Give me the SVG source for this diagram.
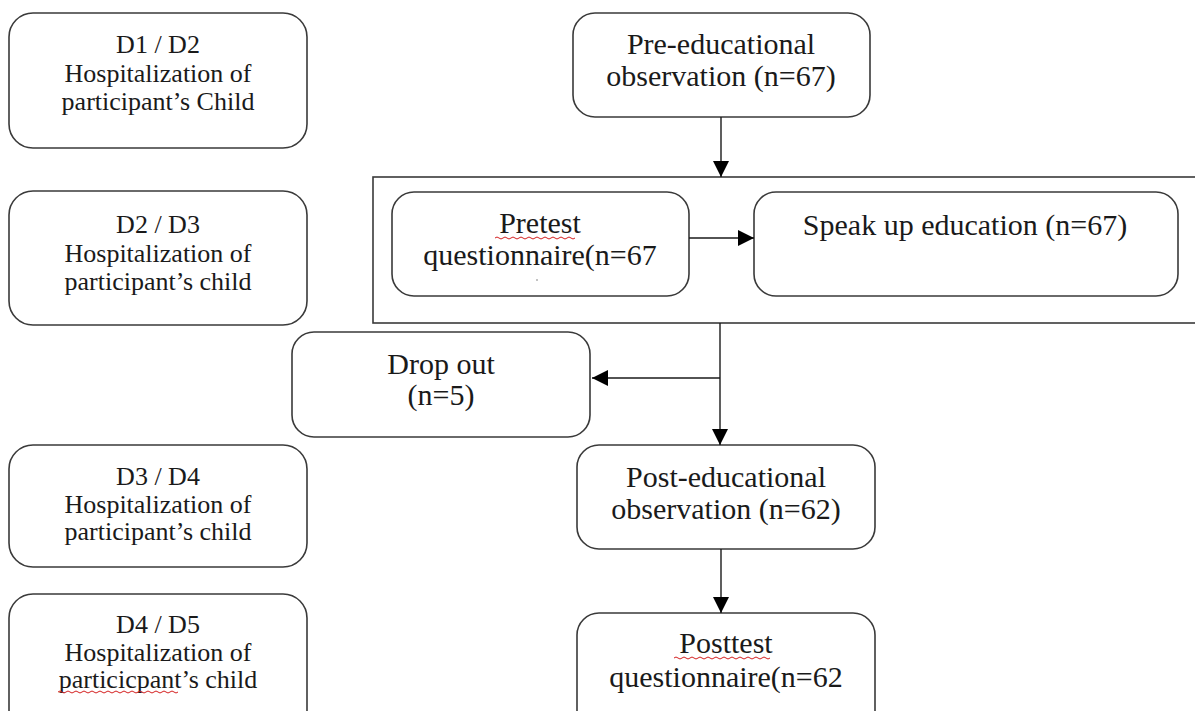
<svg xmlns="http://www.w3.org/2000/svg" width="1195" height="711" viewBox="0 0 1195 711">
  <style>
    .box { fill: #ffffff; stroke: #3a3a3a; stroke-width: 1.6; }
    .frame { fill: none; stroke: #3a3a3a; stroke-width: 1.6; }
    .line { fill: none; stroke: #1a1a1a; stroke-width: 1.4; }
    .side { font-family: "Liberation Serif", "Times New Roman", serif; font-size: 26px; fill: #1a1a1a; text-anchor: middle; }
    .main { font-family: "Liberation Serif", "Times New Roman", serif; font-size: 30px; fill: #1a1a1a; text-anchor: middle; }
    .spell { fill: none; stroke: #d42020; stroke-width: 1; }
  </style>
  <defs>
    <marker id="arrow" viewBox="0 0 10 10" refX="10" refY="5" markerWidth="16" markerHeight="16" markerUnits="userSpaceOnUse" orient="auto">
      <path d="M0,0 L10,5 L0,10 Z" fill="#000000"/>
    </marker>
  </defs>
  <rect width="1195" height="711" fill="#ffffff"/>

  <!-- hospital-day timeline on the left -->
  <g id="day-d1-d2">
    <rect class="box" x="9" y="13" width="298" height="135" rx="24"/>
    <text class="side" x="158" y="53">D1 / D2</text>
    <text class="side" x="158" y="82">Hospitalization of</text>
    <text class="side" x="158" y="110">participant’s Child</text>
  </g>
  <g id="day-d2-d3">
    <rect class="box" x="9" y="191" width="298" height="134" rx="24"/>
    <text class="side" x="158" y="233">D2 / D3</text>
    <text class="side" x="158" y="262">Hospitalization of</text>
    <text class="side" x="158" y="290">participant’s child</text>
  </g>
  <g id="day-d3-d4">
    <rect class="box" x="9" y="445" width="298" height="122" rx="24"/>
    <text class="side" x="158" y="485">D3 / D4</text>
    <text class="side" x="158" y="513">Hospitalization of</text>
    <text class="side" x="158" y="540">participant’s child</text>
  </g>
  <g id="day-d4-d5">
    <rect class="box" x="9" y="594" width="298" height="140" rx="24"/>
    <text class="side" x="158" y="633">D4 / D5</text>
    <text class="side" x="158" y="661">Hospitalization of</text>
    <text class="side" x="158" y="688">particicpant’s child</text>
    <path class="spell" d="M58,692 q2,-2 4,0 t4,0 t4,0 t4,0 t4,0 t4,0 t4,0 t4,0 t4,0 t4,0 t4,0 t4,0 t4,0 t4,0 t4,0 t4,0 t4,0 t4,0 t4,0 t4,0 t4,0 t4,0 t4,0 t4,0 t4,0 t4,0 t4,0 t4,0 t4,0 t4,0"/>
  </g>

  <!-- study flow -->
  <g id="pre-observation">
    <rect class="box" x="573" y="13" width="297" height="104" rx="22"/>
    <text class="main" x="721" y="54">Pre-educational</text>
    <text class="main" x="721" y="86">observation (n=67)</text>
  </g>

  <g id="intervention-frame">
    <rect class="frame" x="373" y="177" width="840" height="146"/>
  </g>

  <g id="pretest">
    <rect class="box" x="392" y="192" width="297" height="104" rx="22"/>
    <text class="main" x="540" y="233">Pretest</text>
    <text class="main" x="540" y="265">questionnaire(n=67</text>
    <path class="spell" d="M495,238 q2,-2 4,0 t4,0 t4,0 t4,0 t4,0 t4,0 t4,0 t4,0 t4,0 t4,0 t4,0 t4,0 t4,0 t4,0 t4,0 t4,0 t4,0 t4,0 t4,0 t4,0"/>
    <circle cx="537" cy="280" r="0.8" fill="#777777"/>
  </g>

  <g id="speakup-education">
    <rect class="box" x="754" y="192" width="424" height="104" rx="22"/>
    <text class="main" x="965" y="235">Speak up education (n=67)</text>
  </g>

  <g id="drop-out">
    <rect class="box" x="292" y="332" width="298" height="105" rx="22"/>
    <text class="main" x="441" y="374">Drop out</text>
    <text class="main" x="441" y="405">(n=5)</text>
  </g>

  <g id="post-observation">
    <rect class="box" x="577" y="445" width="298" height="104" rx="22"/>
    <text class="main" x="726" y="487">Post-educational</text>
    <text class="main" x="726" y="519">observation (n=62)</text>
  </g>

  <g id="posttest">
    <rect class="box" x="577" y="613" width="298" height="130" rx="22"/>
    <text class="main" x="726" y="653">Posttest</text>
    <text class="main" x="726" y="687">questionnaire(n=62</text>
    <path class="spell" d="M674,658 q2,-2 4,0 t4,0 t4,0 t4,0 t4,0 t4,0 t4,0 t4,0 t4,0 t4,0 t4,0 t4,0 t4,0 t4,0 t4,0 t4,0 t4,0 t4,0 t4,0 t4,0 t4,0 t4,0 t4,0 t4,0"/>
  </g>

  <g id="connectors">
    <line class="line" x1="721" y1="117" x2="721" y2="177" marker-end="url(#arrow)"/>
    <line class="line" x1="689" y1="238" x2="754" y2="238" marker-end="url(#arrow)"/>
    <line class="line" x1="720" y1="323" x2="720" y2="445" marker-end="url(#arrow)"/>
    <line class="line" x1="720" y1="378" x2="592" y2="378" marker-end="url(#arrow)"/>
    <line class="line" x1="721" y1="549" x2="721" y2="613" marker-end="url(#arrow)"/>
  </g>
</svg>
